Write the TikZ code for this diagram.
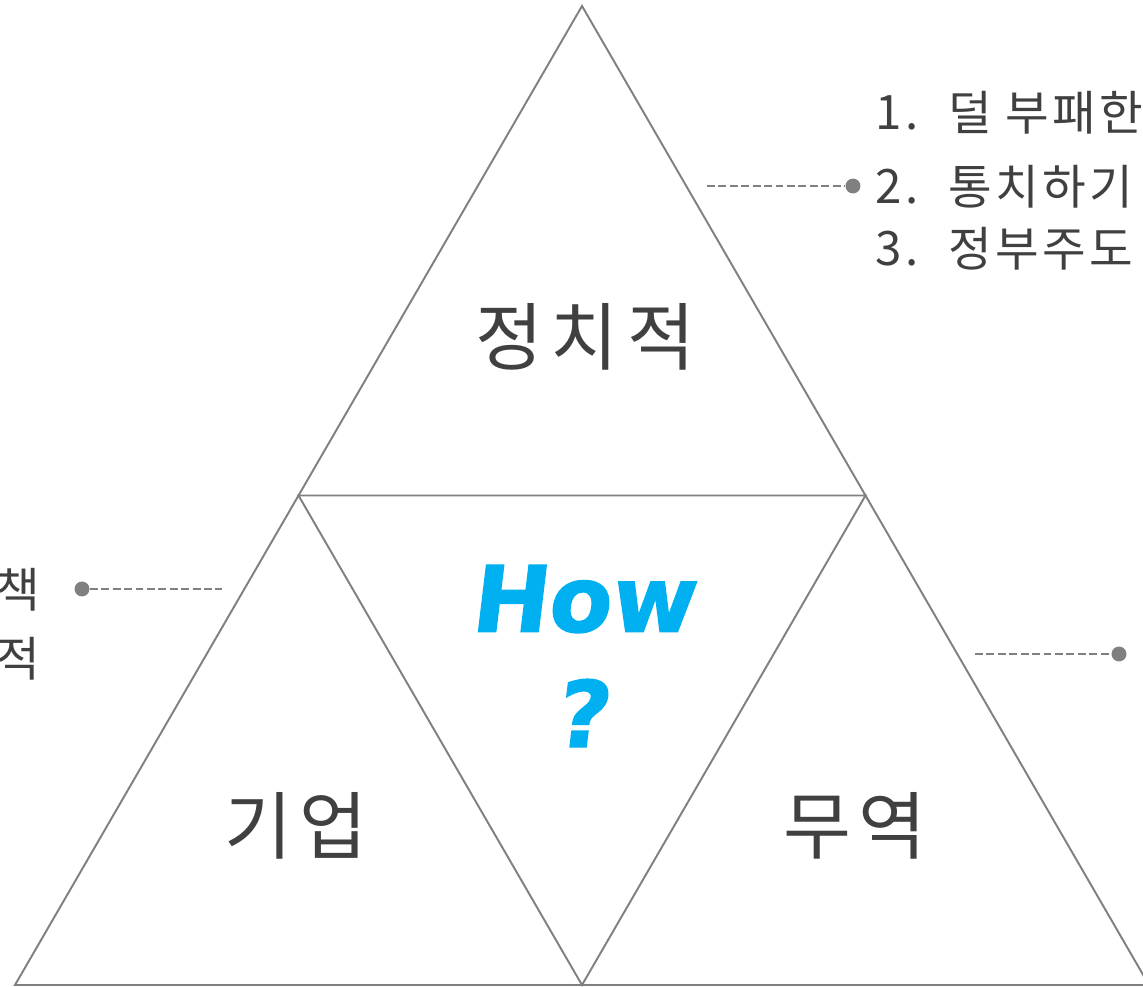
\documentclass[tikz,border=0pt]{standalone}
\usepackage{fontspec}
\usepackage{xcolor}
\usepackage{tikz}
\setmainfont{Noto Sans CJK KR}
\newfontfamily\howfont[FakeSlant=0.12,FakeBold=1.5]{DejaVu Sans Bold}
\definecolor{linegray}{RGB}{128,128,128}
\definecolor{textgray}{RGB}{64,64,64}
\definecolor{howblue}{RGB}{0,176,240}
\begin{document}
\begin{tikzpicture}[x=0.02cm,y=-0.02cm]
\tikzstyle{edge}=[draw=linegray,line width=1.1pt]
\tikzstyle{part}=[text=textgray,inner sep=0,font=\fontsize{42pt}{42pt}\selectfont\addfontfeature{LetterSpace=11}]
\tikzstyle{item}=[text=textgray,inner sep=0,font=\fontsize{27pt}{27pt}\selectfont\addfontfeature{LetterSpace=7}]
\tikzstyle{how}=[text=howblue,inner sep=0,font=\howfont\fontsize{52pt}{52pt}\selectfont]
\tikzstyle{dot}=[circle,fill=linegray,inner sep=0,minimum size=8.5pt]
\tikzstyle{leader}=[draw=linegray,line width=1.4pt,dash pattern=on 4.5pt off 2pt]
\fill[white] (0,0) rectangle (1143,987);
\useasboundingbox (0,0) rectangle (1143,987);
\clip (0,0) rectangle (1143,987);
\coordinate (t) at (582,6);
\coordinate (bl) at (15,985);
\coordinate (br) at (1149,985);
\coordinate (ml) at (298.5,495.5);
\coordinate (mr) at (865.5,495.5);
\coordinate (mb) at (582,985);
\draw[edge] (bl) -- (t) -- (br) -- cycle;
\draw[edge] (ml) -- (mr) -- (mb) -- cycle;
\node[part] (pol) at (585,337) {정치적};
\node[part] (biz) at (296,826) {기업};
\node[part] (trade) at (855,826) {무역};
\node[how] (h) at (582,599) {How};
\node[how] (q) at (581,713) {?};
\node[item,anchor=west] (n1) at (875,112.5) {1.};
\node[item,anchor=west] (n2) at (875,187) {2.};
\node[item,anchor=west] (n3) at (875,249) {3.};
\node[item,anchor=west] (i1) at (948,112.5) {덜 부패한};
\node[item,anchor=west] (i2) at (948,187) {통치하기};
\node[item,anchor=west] (i3) at (948,249) {정부주도};
\node[item,anchor=east] (l1) at (40,590) {책};
\node[item,anchor=east] (l2) at (40,659) {적};
\node[dot] (d1) at (853,186) {};
\node[dot] (d2) at (82,589) {};
\node[dot] (d3) at (1119,654) {};
\coordinate (e1) at (707,186);
\coordinate (e2) at (222,589);
\coordinate (e3) at (975,654);
\draw[leader] (e1) -- (d1);
\draw[leader] (d2) -- (e2);
\draw[leader] (e3) -- (d3);
\end{tikzpicture}
\end{document}
